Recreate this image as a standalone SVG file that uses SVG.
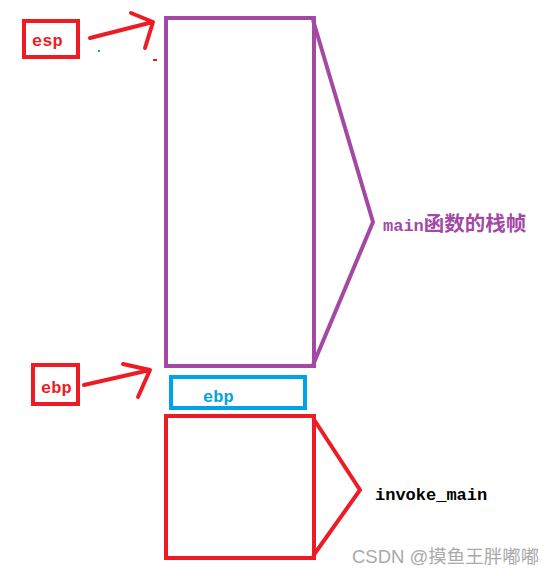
<svg xmlns="http://www.w3.org/2000/svg" width="559" height="576" viewBox="0 0 559 576">
<style>
.red{fill:none;stroke:#ed1c24;stroke-width:4}
.pur{fill:none;stroke:#a349a4;stroke-width:4}
.blu{fill:none;stroke:#00a2e8;stroke-width:4}
.arr{fill:none;stroke:#ed1c24;stroke-width:4;stroke-linecap:round;stroke-linejoin:round}
.t{font-family:"Liberation Mono","Noto Sans CJK SC",monospace;font-weight:bold;font-size:17px}
</style>
<rect width="559" height="576" fill="#fff"/>
<g id="esp-label">
<rect class="red" x="24" y="21" width="54" height="36"/>
<text class="t" x="32" y="46" fill="#ed1c24">esp</text>
</g>
<g id="ebp-label">
<rect class="red" x="33" y="365" width="45" height="39"/>
<text class="t" x="41" y="393" fill="#ed1c24">ebp</text>
</g>
<g id="main-frame">
<rect class="pur" x="166" y="18" width="148" height="348"/>
</g>
<g id="ebp-slot">
<rect class="blu" x="171" y="377" width="134" height="31"/>
<text class="t" x="203" y="402" fill="#00a2e8">ebp</text>
</g>
<g id="invoke-frame">
<rect class="red" x="166" y="416" width="148" height="142"/>
</g>
<g id="main-brace">
<polyline class="pur" points="313,20 373,222 313,365" stroke-linejoin="round"/>
<text class="t" x="383" y="231" fill="#a349a4" font-size="18">main<tspan font-size="20.5">函数的栈帧</tspan></text>
</g>
<g id="invoke-brace">
<polyline class="red" points="313,418 360,490 313,556"/>
<text class="t" x="375" y="500" fill="#000" font-size="18.5">invoke_main</text>
</g>
<g id="connectors">
<path class="arr" d="M90,38 L153,22 M131,13 L153,22 L145,48"/>
<path class="arr" d="M84,385 L150,370 M123,364 L150,370 L138,397"/>
</g>
<rect x="153" y="59" width="4" height="2" fill="#ed1c24"/>
<rect x="98" y="50" width="2" height="2" fill="#00a2e8"/>
<text x="352" y="563" font-family="'Liberation Sans','Noto Sans CJK SC',sans-serif" font-size="18.5" fill="#aaa">CSDN @摸鱼王胖嘟嘟</text>
</svg>
